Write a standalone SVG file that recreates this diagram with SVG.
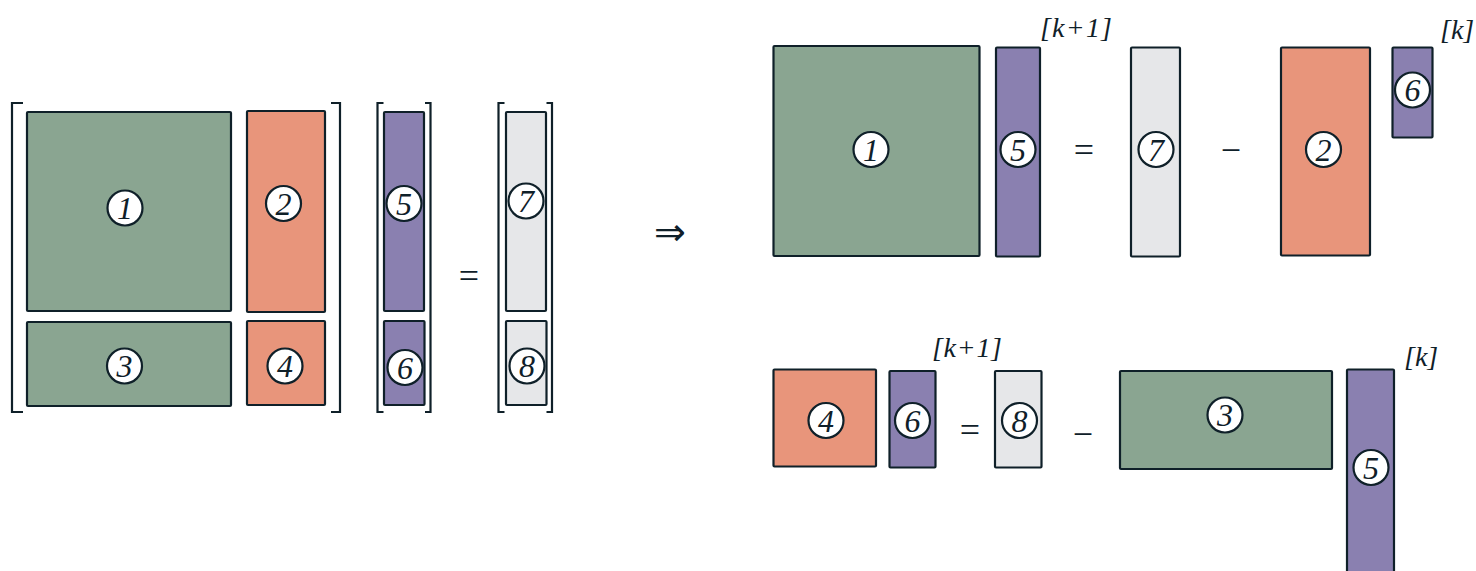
<svg xmlns="http://www.w3.org/2000/svg" width="1476" height="571" viewBox="0 0 1476 571">
<style>
.b{stroke:#0f2029;stroke-width:2.2}
.g{fill:#8aa591}
.o{fill:#e8957b}
.p{fill:#8a80b0}
.w{fill:#e6e7e9}
.c{fill:#fff;stroke:#0f2029;stroke-width:2.2}
.n{font-family:'Liberation Serif','DejaVu Serif',serif;font-style:italic;font-size:32px;fill:#0f2029;text-anchor:middle}
.s{font-family:'Liberation Serif','DejaVu Serif',serif;font-style:italic;font-size:28px;fill:#0f2029}
.op{font-family:'Liberation Serif','DejaVu Serif',serif;font-size:36px;fill:#0f2029;text-anchor:middle}
.br{fill:none;stroke:#0f2029;stroke-width:2.2}
</style>
<rect width="1476" height="571" fill="#fff"/>
<g id="brackets">
<path class="br" d="M23,103 H12 V412 H23"/>
<path class="br" d="M331,103 H340 V412 H331"/>
<path class="br" d="M383.5,103 H377.5 V412 H383.5"/>
<path class="br" d="M425,103 H430.5 V412 H425"/>
<path class="br" d="M504.5,103 H498.5 V412 H504.5"/>
<path class="br" d="M546.5,103 H552 V412 H546.5"/>
</g>
<g id="L1"><rect class="b g" x="27" y="112" width="204" height="199" rx="1"/><circle class="c" cx="125" cy="208" r="17.5"/><text class="n" x="125" y="219">1</text></g>
<g id="L2"><rect class="b o" x="247" y="111" width="78" height="201" rx="1"/><circle class="c" cx="283.5" cy="203.5" r="17.5"/><text class="n" x="283.5" y="214.5">2</text></g>
<g id="L3"><rect class="b g" x="27" y="322" width="204" height="84" rx="1"/><circle class="c" cx="124.5" cy="366" r="17.5"/><text class="n" x="124.5" y="377">3</text></g>
<g id="L4"><rect class="b o" x="247" y="321" width="78" height="84" rx="1"/><circle class="c" cx="285" cy="366" r="17.5"/><text class="n" x="285" y="377">4</text></g>
<g id="L5"><rect class="b p" x="384" y="112" width="40" height="199" rx="1"/><circle class="c" cx="404" cy="203.5" r="17.5"/><text class="n" x="404" y="214.5">5</text></g>
<g id="L6"><rect class="b p" x="384" y="321" width="40.5" height="84" rx="1"/><circle class="c" cx="405" cy="367.5" r="17.5"/><text class="n" x="405" y="378.5">6</text></g>
<g id="L7"><rect class="b w" x="506" y="112" width="40" height="199" rx="1"/><circle class="c" cx="526" cy="201" r="17.5"/><text class="n" x="526" y="212">7</text></g>
<g id="L8"><rect class="b w" x="506" y="321" width="40.5" height="84" rx="1"/><circle class="c" cx="527" cy="366" r="17.5"/><text class="n" x="527" y="377">8</text></g>
<text class="op" x="469" y="288">=</text>
<text x="670" y="245" font-family="DejaVu Sans" font-size="38" fill="#0f2029" text-anchor="middle">⇒</text>

<g id="R1"><rect class="b g" x="773.5" y="46" width="206" height="210" rx="1"/><circle class="c" cx="871" cy="149.5" r="17.5"/><text class="n" x="871" y="160.5">1</text></g>
<g id="R5"><rect class="b p" x="996" y="47.5" width="44" height="209" rx="1"/><circle class="c" cx="1018" cy="149.5" r="17.5"/><text class="n" x="1018" y="160.5">5</text></g>
<text class="s" x="1040" y="37" textLength="72" lengthAdjust="spacing">[k+1]</text>
<text class="op" x="1084" y="162">=</text>
<g id="R7"><rect class="b w" x="1131" y="47.5" width="49" height="209" rx="1"/><circle class="c" cx="1156" cy="149.5" r="17.5"/><text class="n" x="1156" y="160.5">7</text></g>
<text class="op" x="1231" y="162">−</text>
<g id="R2"><rect class="b o" x="1281" y="47.5" width="89" height="208" rx="1"/><circle class="c" cx="1323.5" cy="149.5" r="17.5"/><text class="n" x="1323.5" y="160.5">2</text></g>
<g id="R6"><rect class="b p" x="1392.5" y="47.5" width="40" height="90" rx="1"/><circle class="c" cx="1412.5" cy="90" r="17.5"/><text class="n" x="1412.5" y="101">6</text></g>
<text class="s" x="1440" y="39">[k]</text>

<g id="B4"><rect class="b o" x="773.5" y="369.5" width="102.5" height="97" rx="1"/><circle class="c" cx="826" cy="420.5" r="17.5"/><text class="n" x="826" y="431.5">4</text></g>
<g id="B6"><rect class="b p" x="889.5" y="371" width="46" height="96.5" rx="1"/><circle class="c" cx="912.5" cy="420.5" r="17.5"/><text class="n" x="912.5" y="431.5">6</text></g>
<text class="s" x="932" y="357" textLength="70" lengthAdjust="spacing">[k+1]</text>
<text class="op" x="970" y="442">=</text>
<g id="B8"><rect class="b w" x="995" y="371" width="46.5" height="96.5" rx="1"/><circle class="c" cx="1019.5" cy="420.5" r="17.5"/><text class="n" x="1019.5" y="431.5">8</text></g>
<text class="op" x="1083" y="446">−</text>
<g id="B3"><rect class="b g" x="1120" y="371" width="212" height="98" rx="1"/><circle class="c" cx="1225" cy="415" r="17.5"/><text class="n" x="1225" y="426">3</text></g>
<g id="B5"><rect class="b p" x="1347" y="369.5" width="47" height="210" rx="1"/><circle class="c" cx="1371" cy="467.5" r="17.5"/><text class="n" x="1371" y="478.5">5</text></g>
<text class="s" x="1404" y="366">[k]</text>
<g id="connectors"/>
</svg>
